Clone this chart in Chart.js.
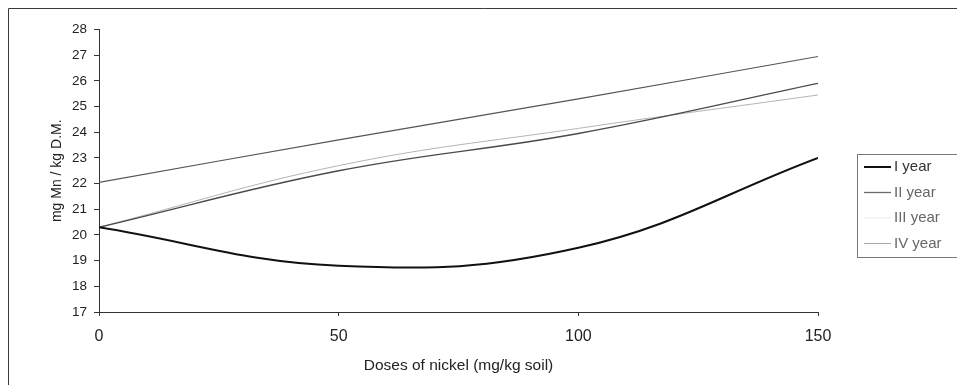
<!DOCTYPE html>
<html>
<head>
<meta charset="utf-8">
<script src="https://cdn.jsdelivr.net/npm/chart.js@4.4.1/dist/chart.umd.min.js"></script>
<style>
  html, body { margin: 0; padding: 0; background: #fff; }
  #wrap { position: relative; width: 957px; height: 385px; }
</style>
</head>
<body>
<div id="wrap"><canvas id="c" width="957" height="385"></canvas></div>
<script>
// ---- data ----
const doses = [0, 50, 100, 150];
const seriesNames = ["I year", "II year", "III year", "IV year"];
const year1 = [20.3, 18.8, 19.5, 23.0];
const year2 = [20.3, 22.5, 23.95, 25.9];
const year3 = [22.05, 23.7, 25.3, 26.95];
const year4 = [20.3, 22.7, 24.15, 25.45];
const xTickLabels = ["0", "50", "100", "150"];
const yMin = 17, yMax = 28;
const xTitle = "Doses of nickel (mg/kg soil)";
const yTitle = "mg Mn / kg D.M.";

// ---- styles ----
const lineColors = ["#111111", "#4a4a4a", "#555555", "#b4b4b4"];
const legendSwatch = ["#111111", "#6a6a6a", "#f0f0f0", "#a8a8a8"];
const lineWidths = [2, 1.3, 1.2, 1];
const FONT = "'Liberation Sans', Arial, sans-serif";

function pts(vals) { return doses.map((d, i) => ({ x: d, y: vals[i] })); }
const allSeries = [year1, year2, year3, year4];

const frameAndLegend = {
  id: 'frameAndLegend',
  afterDraw(chart) {
    const ctx = chart.ctx;
    ctx.save();
    // outer frame (left & top visible)
    ctx.strokeStyle = '#3a3a3a';
    ctx.lineWidth = 1;
    ctx.beginPath();
    ctx.moveTo(8.5, 390);
    ctx.lineTo(8.5, 8.5);
    ctx.lineTo(960, 8.5);
    ctx.stroke();
    // legend box
    const bx = 857.5, by = 154.5, bw = 110, bh = 103;
    ctx.strokeStyle = '#777';
    ctx.strokeRect(bx, by, bw, bh);
    ctx.font = "15px " + FONT;
    ctx.textBaseline = 'middle';
    ctx.textAlign = 'left';
    chart.data.datasets.forEach((ds, i) => {
      const y = 167 + i * 25.5;
      ctx.strokeStyle = legendSwatch[i];
      ctx.lineWidth = lineWidths[i];
      ctx.beginPath();
      ctx.moveTo(864, y);
      ctx.lineTo(891, y);
      ctx.stroke();
      ctx.fillStyle = i === 0 ? '#333' : '#666';
      ctx.fillText(ds.label, 894, y);
    });
    ctx.restore();
  }
};

new Chart(document.getElementById('c'), {
  type: 'line',
  data: {
    datasets: allSeries.map((s, i) => ({
      label: seriesNames[i],
      data: pts(s),
      borderColor: lineColors[i],
      borderWidth: lineWidths[i],
      pointRadius: 0,
      fill: false,
      tension: 0.4
    }))
  },
  options: {
    responsive: false,
    animation: false,
    devicePixelRatio: 1,
    layout: { padding: { left: 20, right: 139, top: 29.5, bottom: 5 } },
    plugins: { legend: { display: false }, tooltip: { enabled: false } },
    scales: {
      x: {
        type: 'linear',
        min: 0, max: 150,
        afterFit(scale) { scale.height = 68; },
        afterBuildTicks(scale) { scale.ticks = doses.map(v => ({ value: v })); },
        ticks: {
          callback: (v) => xTickLabels[doses.indexOf(v)],
          color: '#222', font: { family: FONT, size: 16 }, padding: 11, maxRotation: 0
        },
        grid: { display: true, drawOnChartArea: false, drawTicks: true, tickLength: 4, color: '#333' },
        border: { display: true, color: '#333', width: 1 },
        title: { display: true, text: xTitle, color: '#222', font: { family: FONT, size: 15.5 }, padding: { top: 0, bottom: 5 } }
      },
      y: {
        min: yMin, max: yMax,
        afterFit(scale) { scale.width = 79; },
        ticks: { stepSize: 1, color: '#222', font: { family: FONT, size: 13.5 }, padding: 7 },
        grid: { display: true, drawOnChartArea: false, drawTicks: true, tickLength: 5, color: '#333' },
        border: { display: true, color: '#333', width: 1 },
        title: { display: true, text: yTitle, color: '#222', font: { family: FONT, size: 14 }, padding: { top: 29, bottom: 0 } }
      }
    }
  },
  plugins: [frameAndLegend]
});
</script>
</body>
</html>
